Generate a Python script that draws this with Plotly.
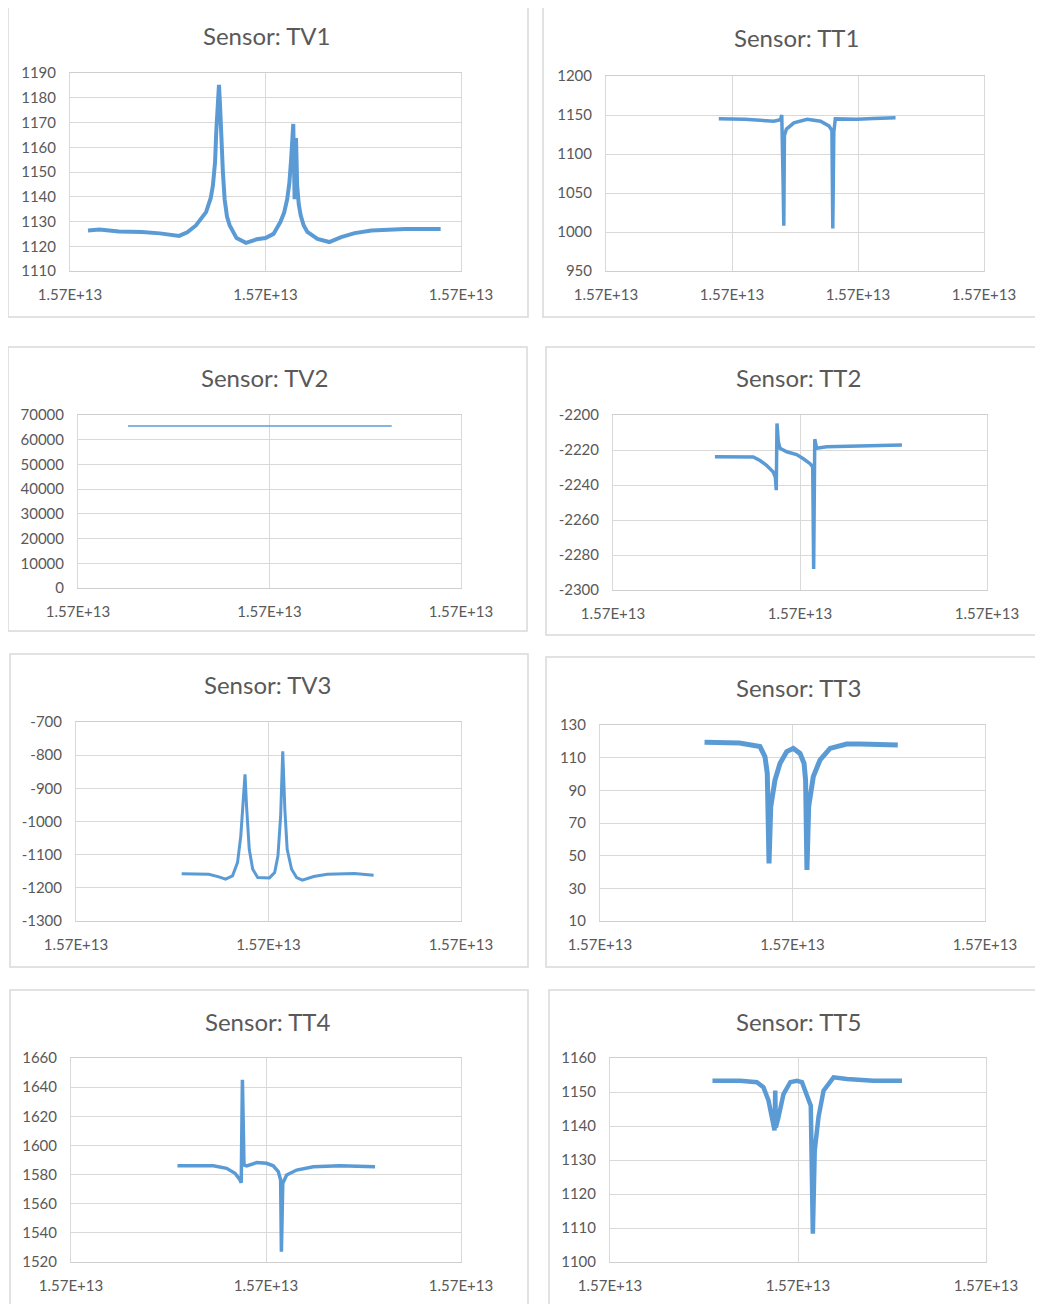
import plotly.graph_objects as go

# ---------------- data ----------------
sensor_names = ["TV1", "TT1", "TV2", "TT2", "TV3", "TT3", "TT4", "TT5"]
x_tick_label = "1.57E+13"

tv1_x = [0.092, 0.15, 0.25, 0.368, 0.46, 0.558, 0.600, 0.644, 0.696, 0.720, 0.731, 0.742, 0.748, 0.755,
         0.762, 0.768, 0.774, 0.782, 0.791, 0.803, 0.817, 0.852, 0.900, 0.955, 1.0, 1.041, 1.076, 1.095,
         1.111, 1.122, 1.131, 1.137, 1.142, 1.149, 1.156, 1.162, 1.170, 1.180, 1.195, 1.214, 1.266,
         1.326, 1.387, 1.456, 1.542, 1.715, 1.896]
tv1_y = [1126.4, 1126.8, 1126.0, 1125.8, 1125.2, 1124.2, 1125.6, 1128.4, 1133.8, 1139.5, 1144.6, 1154,
         1166, 1178, 1185.2, 1176, 1163, 1150, 1139, 1132, 1128.4, 1123.3, 1121.4, 1122.8, 1123.3, 1125,
         1129.8, 1133.5, 1139, 1145.5, 1155, 1162, 1169.4, 1139, 1163.7, 1144.6, 1137, 1132.5, 1128.5,
         1125.8, 1123, 1121.7, 1123.7, 1125.3, 1126.4, 1127, 1127]

tt1_x = [0.895, 1.10, 1.332, 1.385, 1.395, 1.400, 1.406, 1.411, 1.416, 1.432, 1.491, 1.597, 1.703,
         1.769, 1.793, 1.800, 1.808, 1.820, 1.992, 2.126, 2.298]
tt1_y = [1145.2, 1144.5, 1142, 1144, 1150, 1119.5, 1060, 1008, 1123.8, 1132, 1140, 1144.4, 1142,
         1136, 1130, 1004.5, 1128, 1145, 1144.4, 1145.6, 1146.5]

tv2_x = [0.261, 1.638]
tv2_y = [65535, 65535]

tt2_x = [0.545, 0.75, 0.786, 0.821, 0.857, 0.868, 0.873, 0.877, 0.884, 0.893, 0.929, 0.982, 1.018,
         1.054, 1.068, 1.073, 1.079, 1.089, 1.143, 1.304, 1.545]
tt2_y = [-2223.9, -2224, -2226, -2228.7, -2232.6, -2235.4, -2243, -2204.8, -2215.3, -2219, -2221,
         -2222.6, -2225, -2227.8, -2229.7, -2288, -2213.8, -2219, -2218.2, -2217.6, -2217.2]

tv3_x = [0.549, 0.69, 0.742, 0.777, 0.813, 0.839, 0.856, 0.869, 0.878, 0.886, 0.90, 0.918, 0.944,
         1.005, 1.032, 1.049, 1.063, 1.074, 1.085, 1.097, 1.12, 1.146, 1.176, 1.235, 1.305, 1.446, 1.546]
tv3_y = [-1157.4, -1159, -1167, -1174, -1164, -1124, -1044, -944, -858, -954, -1084, -1144, -1169,
         -1170, -1154, -1104, -984, -788, -964, -1084, -1144, -1169, -1177, -1166, -1159, -1157, -1162]

tt3_x = [0.543, 0.725, 0.831, 0.857, 0.869, 0.878, 0.887, 0.909, 0.935, 0.970, 1.004, 1.039, 1.060,
         1.068, 1.075, 1.084, 1.108, 1.143, 1.195, 1.281, 1.351, 1.547]
tt3_y = [119.4, 119, 116.8, 110.6, 100.4, 45.3, 80, 96.3, 106.5, 113.7, 115.7, 112.6, 106.5, 96.3,
         41.2, 80, 98.4, 108.6, 115.7, 118.3, 118.3, 117.7]

tt4_x = [0.546, 0.730, 0.798, 0.841, 0.867, 0.873, 0.879, 0.887, 0.901, 0.952, 1.003, 1.037, 1.063,
         1.075, 1.079, 1.086, 1.106, 1.157, 1.243, 1.379, 1.559]
tt4_y = [1586.1, 1586, 1584.3, 1580.9, 1576.3, 1574.4, 1645, 1586.6, 1586, 1588.2, 1587.7, 1586,
         1582.1, 1576.3, 1527, 1574, 1579.7, 1583.1, 1585.4, 1586, 1585.4]

tt5_x = [0.545, 0.692, 0.781, 0.816, 0.843, 0.864, 0.875, 0.879, 0.882, 0.896, 0.923, 0.959, 0.994,
         1.021, 1.047, 1.068, 1.079, 1.089, 1.109, 1.136, 1.189, 1.26, 1.402, 1.553]
tt5_y = [1153.3, 1153.3, 1152.9, 1151.4, 1147.5, 1142.6, 1138.7, 1150.4, 1139.6, 1142.6, 1149.4,
         1152.9, 1153.3, 1152.9, 1149.4, 1146, 1108.3, 1132.8, 1142.6, 1150.4, 1154.3, 1153.8, 1153.3,
         1153.3]

series_x = [tv1_x, tt1_x, tv2_x, tt2_x, tv3_x, tt3_x, tt4_x, tt5_x]
series_y = [tv1_y, tt1_y, tv2_y, tt2_y, tv3_y, tt3_y, tt4_y, tt5_y]

# y-axis tick values per panel
y_ticks = [
    [1110, 1120, 1130, 1140, 1150, 1160, 1170, 1180, 1190],
    [950, 1000, 1050, 1100, 1150, 1200],
    [0, 10000, 20000, 30000, 40000, 50000, 60000, 70000],
    [-2300, -2280, -2260, -2240, -2220, -2200],
    [-1300, -1200, -1100, -1000, -900, -800, -700],
    [10, 30, 50, 70, 90, 110, 130],
    [1520, 1540, 1560, 1580, 1600, 1620, 1640, 1660],
    [1100, 1110, 1120, 1130, 1140, 1150, 1160],
]
x_tick_count = [3, 4, 3, 3, 3, 3, 3, 3]

# ---------------- layout / style ----------------
PAGE_W, PAGE_H = 1043, 1304
OFF = 8  # default page margin of the html body
W, H = PAGE_W - OFF, PAGE_H - OFF
# positions in page pixels: left, top, right, bottom
plot_px = [
    (70, 73, 461, 271), (606, 76, 984, 271),
    (78, 415, 461, 588), (613, 415, 987, 590),
    (76, 722, 461, 921), (600, 725, 985, 921),
    (71, 1058, 461, 1262), (610, 1058, 986, 1262),
]
border_px = [
    (8, 4, 528, 317), (543, 6, 1046, 317),
    (8, 347, 527, 631), (546, 347, 1046, 635),
    (10, 654, 528, 967), (546, 657, 1046, 967),
    (10, 990, 528, 1308), (549, 990, 1046, 1308),
]
title_px = [(267, 35), (796, 38), (265, 377), (798, 377), (268, 684), (798, 687), (268, 1021), (798, 1021)]
line_widths = [4, 3.5, 1.5, 3.5, 3, 5, 3.5, 4.5]


def px_x(v):
    return (v - OFF) / W


def px_y(v):
    return 1 - (v - OFF) / H


LINE = "#5B9BD5"
GRID = "#D9D9D9"
TXT = "#595959"
FONT = "Lato"

fig = go.Figure()
shapes, annotations = [], []
layout = dict(width=W, height=H, autosize=False,
              margin=dict(l=0, r=0, t=0, b=0, pad=0, autoexpand=False),
              paper_bgcolor="white", plot_bgcolor="white", showlegend=False,
              font=dict(family=FONT, color=TXT, size=15))

for i in range(8):
    n = i + 1
    xa = "x" if n == 1 else f"x{n}"
    ya = "y" if n == 1 else f"y{n}"
    fig.add_trace(go.Scatter(x=series_x[i], y=series_y[i], mode="lines",
                             line=dict(color=LINE, width=line_widths[i]),
                             xaxis=xa, yaxis=ya, hoverinfo="skip"))
    l, t, r, b = plot_px[i]
    nt = x_tick_count[i]
    xt = list(range(nt))
    layout[f"xaxis{'' if n == 1 else n}"] = dict(
        domain=[px_x(l), px_x(r)], anchor=ya, range=[0, nt - 1],
        tickvals=xt, ticktext=[x_tick_label] * nt, automargin=False,
        showgrid=True, gridcolor=GRID, gridwidth=1, zeroline=False,
        showline=True, linecolor="#CFCFCF", mirror=True,
        ticks="", ticklabelstandoff=10, tickfont=dict(size=15, color=TXT, family=FONT),
        fixedrange=True)
    yt = y_ticks[i]
    layout[f"yaxis{'' if n == 1 else n}"] = dict(
        domain=[px_y(b), px_y(t)], anchor=xa, range=[yt[0], yt[-1]],
        tickvals=yt, ticktext=[str(v) for v in yt], automargin=False,
        showgrid=True, gridcolor=GRID, gridwidth=1, zeroline=False,
        showline=True, linecolor=GRID, mirror=True,
        ticks="", ticklabelstandoff=10, tickfont=dict(size=15, color=TXT, family=FONT),
        fixedrange=True)
    bl, bt, br, bb = border_px[i]
    shapes.append(dict(type="rect", xref="paper", yref="paper",
                       x0=px_x(bl), x1=px_x(br), y0=px_y(bb), y1=px_y(bt),
                       line=dict(color=GRID, width=1.5), fillcolor="rgba(0,0,0,0)", layer="below"))
    tx, ty = title_px[i]
    annotations.append(dict(text=f"Sensor: {sensor_names[i]}", xref="paper", yref="paper",
                            x=px_x(tx), y=px_y(ty), xanchor="center", yanchor="middle",
                            showarrow=False, font=dict(size=24, color=TXT, family=FONT)))

layout["shapes"] = shapes
layout["annotations"] = annotations
fig.update_layout(**layout)
fig.write_html("out.html")
